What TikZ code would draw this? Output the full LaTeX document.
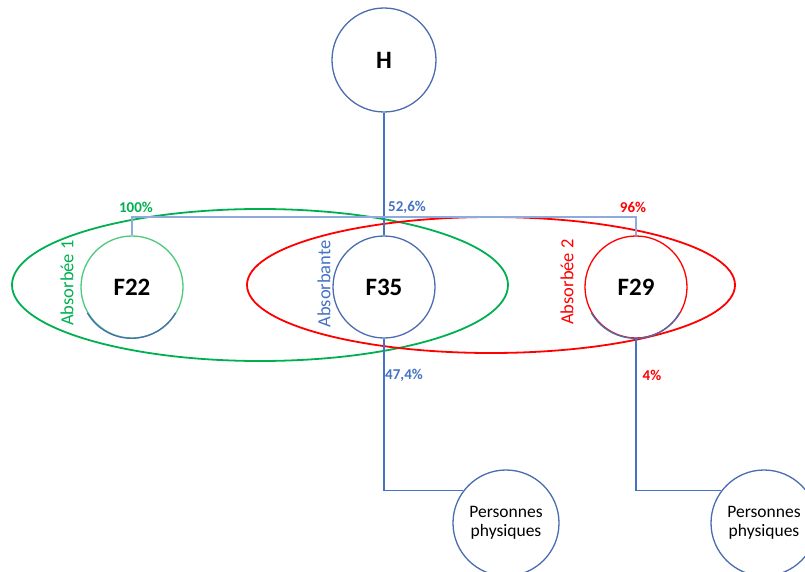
\documentclass[tikz,border=0pt]{standalone}
\usepackage{fontspec}
\setmainfont{Carlito}
\definecolor{lnkblue}{HTML}{4472C4}
\definecolor{barblue}{HTML}{8FAADC}
\definecolor{rimblue}{HTML}{4A6DB0}
\definecolor{grpone}{HTML}{00B050}
\definecolor{rimone}{HTML}{4CC97A}
\definecolor{grptwo}{HTML}{FF0000}
\begin{document}
\begin{tikzpicture}[x=1pt,y=-1pt,
  firm/.style={circle, draw=rimblue, line width=1.3pt, minimum size=102pt, inner sep=0pt, font=\fontsize{25}{27}\selectfont\bfseries},
  people/.style={circle, draw=rimblue, line width=1.3pt, minimum size=106pt, inner sep=0pt, align=center, font=\fontsize{17.5}{19}\selectfont},
  pct/.style={inner sep=0pt, font=\fontsize{15}{17}\selectfont\bfseries},
  role/.style={inner sep=0pt, rotate=90, font=\fontsize{18.5}{20}\selectfont},
  lnk/.style={draw=lnkblue, line width=1.2pt},
  grp/.style={line width=1.8pt}]
 \useasboundingbox (0,0) rectangle (805,572);

 % groups
 \draw[grp, grpone] (260,285) ellipse [x radius=248pt, y radius=76pt];
 \draw[grp, grptwo] (491,285) ellipse [x radius=244pt, y radius=68pt];

 % companies
 \node[firm, minimum size=104pt] (h) at (384,60) {H};
 \node[firm, draw=rimone] (f22) at (132,287) {F22};
 \node[firm] (f35) at (384,287) {F35};
 \node[firm, draw=grptwo] (f29) at (636,287) {F29};
 \draw[rimblue, line width=1.3pt] (f22.210) arc[start angle=210, end angle=330, radius=51pt];
 \draw[rimblue, line width=1.3pt] (f29.210) arc[start angle=210, end angle=330, radius=51pt];

 \node[people] (pp1) at (506,523) {Personnes\\physiques};
 \node[people] (pp2) at (764,523) {Personnes\\physiques};

 % links
 \coordinate (bar) at (384,217);
 \draw[lnk] (h) -- (f35);
 \draw[lnk, draw=barblue] (f22.north) |- (bar) -| (f29.north);
 \draw[lnk] (f35.south) |- (pp1.143);
 \draw[lnk] (f29.south) |- (pp2.143);

 % shares
 \node[pct, text=grpone] (p100) at (136,207) {100\%};
 \node[pct, text=lnkblue] (p526) at (407,207) {52,6\%};
 \node[pct, text=grptwo] (p96) at (633,207) {96\%};
 \node[pct, text=lnkblue] (p474) at (404,375) {47,4\%};
 \node[pct, text=grptwo] (p4) at (652,375) {4\%};

 % roles
 \node[role, text=grpone] (r1) at (67,283) {Absorbée 1};
 \node[role, text=lnkblue] (r0) at (324,284) {Absorbante};
 \node[role, text=grptwo] (r2) at (567,282) {Absorbée 2};
\end{tikzpicture}
\end{document}
